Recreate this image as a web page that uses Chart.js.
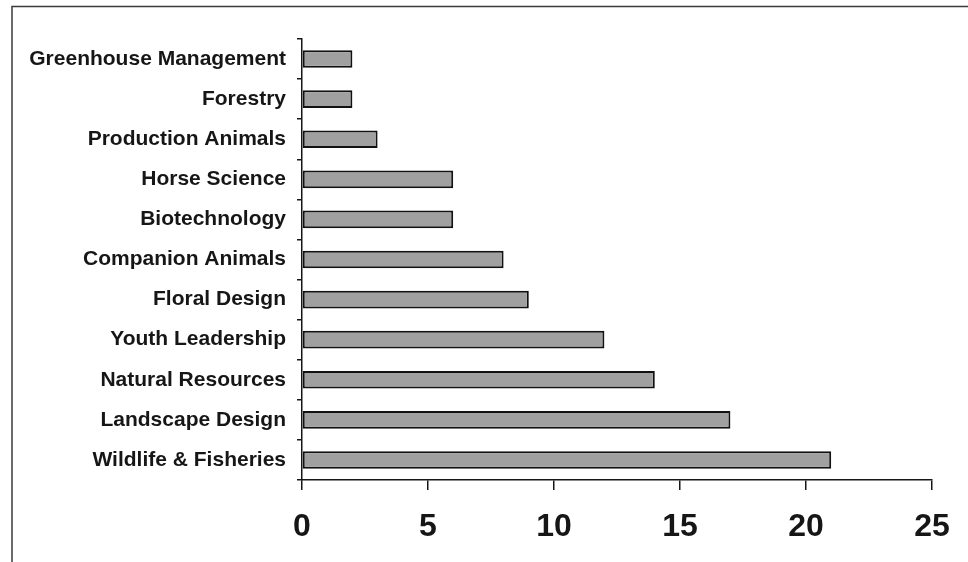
<!DOCTYPE html>
<html>
<head>
<meta charset="utf-8">
<script src="https://cdn.jsdelivr.net/npm/chart.js@4.4.1/dist/chart.umd.min.js"></script>
<style>
  html, body { margin: 0; padding: 0; background: #fff; }
  #wrap { width: 968px; height: 562px; position: relative; }
</style>
</head>
<body>
<div id="wrap"><canvas id="c" width="968" height="562"></canvas></div>
<script>
// Programme areas, listed top to bottom
const categories = [
  'Greenhouse Management',
  'Forestry',
  'Production Animals',
  'Horse Science',
  'Biotechnology',
  'Companion Animals',
  'Floral Design',
  'Youth Leadership',
  'Natural Resources',
  'Landscape Design',
  'Wildlife & Fisheries'
];
// Counts per programme area
const counts = [2, 2, 3, 6, 6, 8, 9, 12, 14, 17, 21];
// Value axis ticks
const xTicks = [0, 5, 10, 15, 20, 25];

const ink = '#161616';

// Thin frame along the top and left edges of the page
const framePlugin = {
  id: 'frame',
  afterDraw(chart) {
    const ctx = chart.ctx;
    ctx.save();
    ctx.strokeStyle = '#3a3a3a';
    ctx.lineWidth = 1.5;
    ctx.beginPath();
    ctx.moveTo(12, 562);
    ctx.lineTo(12, 6.5);
    ctx.lineTo(968, 6.5);
    ctx.stroke();
    ctx.restore();
  }
};

new Chart(document.getElementById('c'), {
  type: 'bar',
  data: {
    labels: categories,
    datasets: [{
      data: counts,
      backgroundColor: '#a0a0a0',
      borderColor: '#111',
      borderWidth: 2,
      borderSkipped: false,
      barPercentage: 0.44,
      categoryPercentage: 1.0
    }]
  },
  options: {
    indexAxis: 'y',
    responsive: false,
    animation: false,
    layout: { padding: { top: 39, right: 36, left: 0, bottom: 0 } },
    plugins: {
      legend: { display: false },
      tooltip: { enabled: false }
    },
    scales: {
      x: {
        min: xTicks[0],
        max: xTicks[xTicks.length - 1],
        afterBuildTicks(scale) { scale.ticks = xTicks.map(v => ({ value: v })); },
        afterFit(scale) { scale.height = 82; },
        grid: {
          drawOnChartArea: false,
          drawTicks: true,
          tickLength: 10,
          color: ink,
          lineWidth: 1.5
        },
        border: { display: true, color: ink, width: 1.5 },
        ticks: {
          color: ink,
          padding: 18,
          maxRotation: 0,
          font: { family: 'Liberation Sans, Arial, sans-serif', size: 32, weight: 'bold' }
        }
      },
      y: {
        afterFit(scale) { scale.width = 302; },
        grid: {
          offset: true,
          drawOnChartArea: false,
          drawTicks: true,
          tickLength: 5,
          color: ink,
          lineWidth: 1.5
        },
        border: { display: true, color: ink, width: 1.5 },
        ticks: {
          color: ink,
          padding: 11,
          autoSkip: false,
          font: { family: 'Liberation Sans, Arial, sans-serif', size: 21, weight: 'bold' }
        }
      }
    }
  },
  plugins: [framePlugin]
});
</script>
</body>
</html>
